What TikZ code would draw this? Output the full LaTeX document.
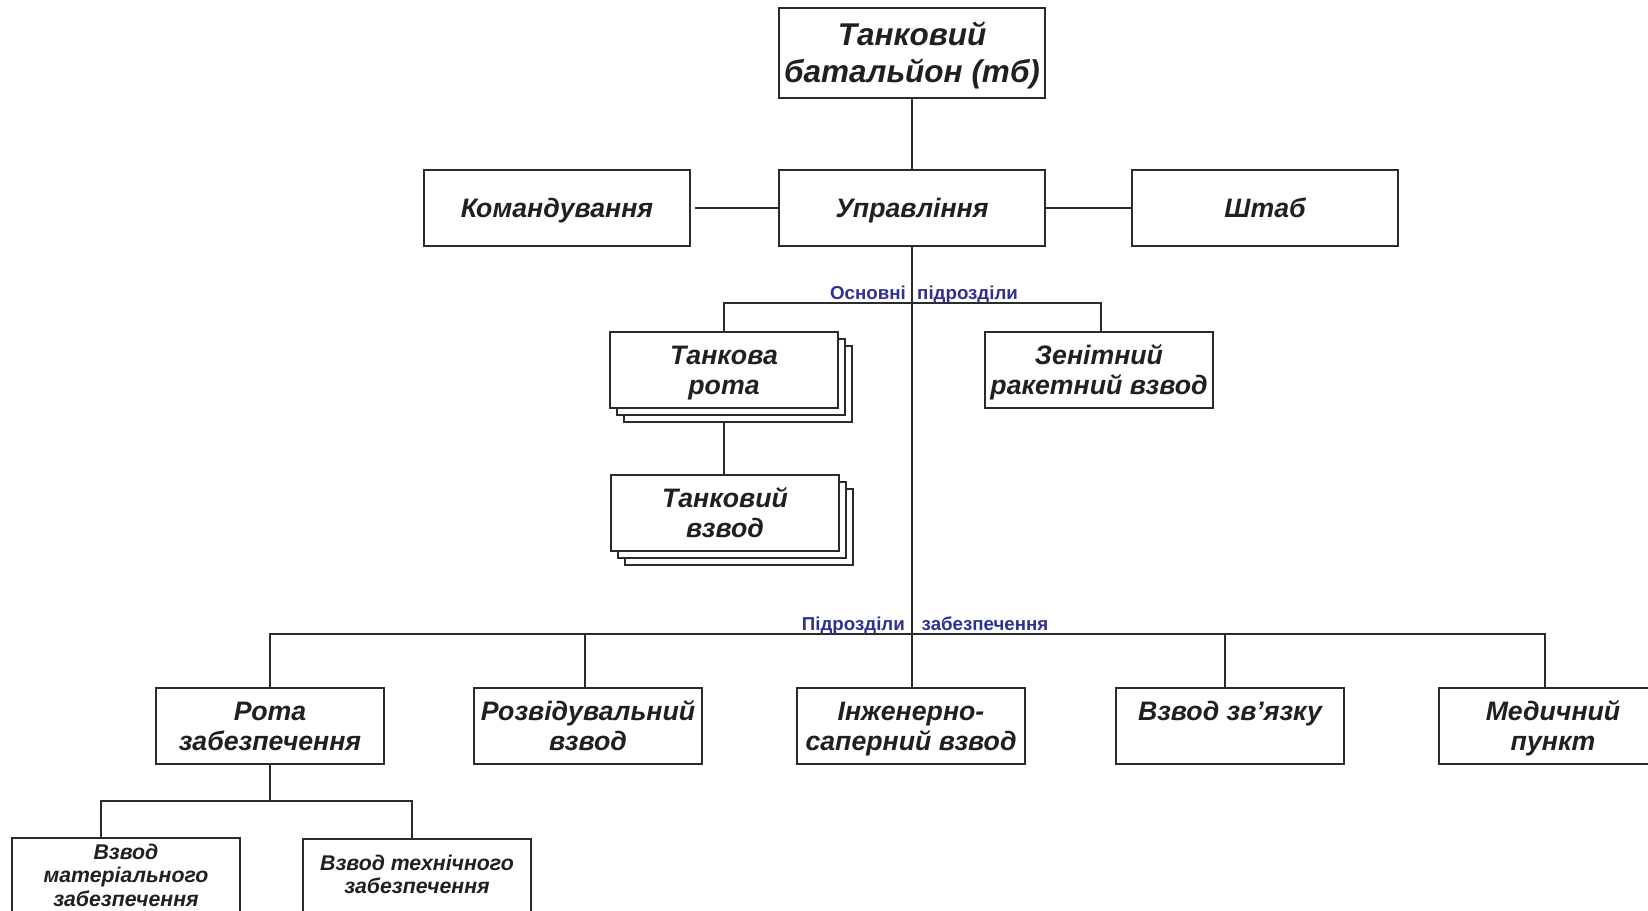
\documentclass[tikz,border=0pt]{standalone}
\usepackage{fontspec}
\setmainfont{Liberation Sans}
\usetikzlibrary{calc,backgrounds,shadows}
\definecolor{ink}{HTML}{231F20}
\definecolor{lbl}{HTML}{2E3192}
\definecolor{ln}{HTML}{2B2B2B}
% row strut: rows spaced \rr em apart, caps centred in each row
\newcommand\rs{\rule[\dimexpr 0.358em-\rr em/2\relax]{0pt}{\rr em}}
\newcommand\tl[1]{{\renewcommand\arraystretch{0}\begin{tabular}{@{}c@{}}#1\end{tabular}}}
\begin{document}
\begin{tikzpicture}[x=1pt,y=-1pt,
  box/.style={draw=ln,line width=2pt,fill=white,text=ink,
    font=\fontsize{26.7}{30.5}\selectfont\bfseries\itshape\def\rr{1.142},
    minimum width=228pt,minimum height=76pt,inner sep=0pt},
  bigbox/.style={box,font=\fontsize{31.5}{37}\selectfont\bfseries\itshape\def\rr{1.175},minimum width=266pt,minimum height=90pt},
  widebox/.style={box,minimum width=266pt},
  smallbox/.style={box,font=\fontsize{21.3}{23.5}\selectfont\bfseries\itshape\def\rr{1.103}},
  stackbox/.style={box,double copy shadow={shadow xshift=7pt,shadow yshift=-7pt,draw=ln,fill=white,line width=2pt}},
  conn/.style={draw=ln,line width=2pt},
  grp/.style={text=lbl,font=\fontsize{18.7}{22}\selectfont\bfseries,inner sep=0pt}
]
\useasboundingbox (0,0) rectangle (1648,910);
\clip (0,0) rectangle (1648,910);

% top level
\node[bigbox] (tb) at (912,53) {\tl{\rs Танковий\\\rs батальйон (тб)}};
\node[widebox] (ctrl) at (912,208) {\tl{\rs Управління}};
\node[widebox] (kom) at (557,208) {\tl{\rs Командування}};
\node[widebox] (shtab) at (1265,208) {\tl{\rs Штаб}};

% main units
\node[stackbox] (rota) at (724,370) {\tl{\rs Танкова\\\rs рота}};
\node[stackbox] (vzvod) at (725,513) {\tl{\rs Танковий\\\rs взвод}};
\node[box] (zenit) at (1099,370) {\tl{\rs Зенітний\\\rs ракетний взвод}};

% support units
\node[box] (rz) at (270,726) {\tl{\rs Рота\\\rs забезпечення}};
\node[box] (rozv) at (588,726) {\tl{\rs Розвідувальний\\\rs взвод}};
\node[box] (inzh) at (911,726) {\tl{\rs Інженерно-\\\rs саперний взвод}};
\node[box] (zv) at (1230,726) {\tl{\rs Взвод зв’язку\\\rs}};
\node[box] (med) at (1553,726) {\tl{\rs Медичний\\\rs пункт}};

\node[smallbox,minimum height=75pt] (mat) at (126,875.5) {\tl{\rs Взвод\\\rs матеріального\\\rs забезпечення}};
\node[smallbox,minimum height=94pt] (tech) at (417,886) {\tl{\rs Взвод технічного\\\rs забезпечення\\\rs}};

% group labels
\node[grp,anchor=base east] (lo1) at (906,299) {Основні};
\node[grp,anchor=base west] (lo2) at (917,299) {підрозділи};
\node[grp,anchor=base east] (ls1) at (905,630) {Підрозділи};
\node[grp,anchor=base west] (ls2) at (921.5,630) {забезпечення};

\coordinate (obus) at (0,303);
\coordinate (sbus) at (0,634);
\coordinate (rbus) at (0,801);
\coordinate (zn) at ($(zenit.north)+(2,0)$);
\coordinate (rd) at ($(rozv.north)+(-3,0)$);
\coordinate (zd) at ($(zv.north)+(-5,0)$);
\coordinate (mdd) at ($(med.north)+(-8,0)$);
\coordinate (md) at ($(mat.north)+(-25,0)$);
\coordinate (td) at ($(tech.north)+(-5,0)$);

\begin{pgfonlayer}{background}
\fill[white] (0,0) rectangle (1648,910);
\draw[conn] (tb.south) -- (ctrl.north);
\draw[conn] ($(kom.east)+(4,0)$) -- (ctrl.west);
\draw[conn] (ctrl.east) -- (shtab.west);
\draw[conn] (ctrl.south) -- (ctrl.south|-inzh.north);
\draw[conn] (rota.north) -- (rota.north|-obus) -- (zn|-obus) -- (zn);
\draw[conn] (rota.south) -- (rota.south|-vzvod.north);
\draw[conn] (rz.north) -- (rz.north|-sbus) -- (mdd|-sbus) -- (mdd);
\draw[conn] (rd) -- (rd|-sbus);
\draw[conn] (zd) -- (zd|-sbus);
\draw[conn] (rz.south) -- (rz.south|-rbus);
\draw[conn] (md) -- (md|-rbus) -- (td|-rbus) -- (td);
\end{pgfonlayer}
\end{tikzpicture}
\end{document}
